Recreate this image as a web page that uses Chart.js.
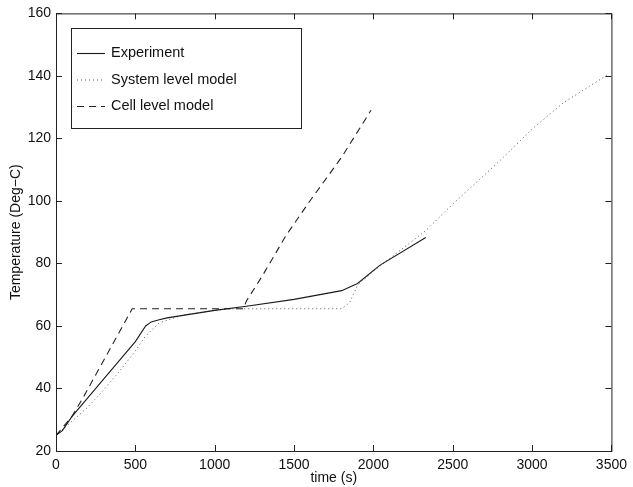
<!DOCTYPE html>
<html>
<head>
<meta charset="utf-8">
<script src="https://cdn.jsdelivr.net/npm/chart.js@4/dist/chart.umd.min.js"></script>
<style>
  html, body { margin: 0; padding: 0; background: #fff; }
  #wrap { width: 633px; height: 487px; position: relative; }
</style>
</head>
<body>
<div id="wrap"><canvas id="c"></canvas></div>
<script>
// values (time in s, temperature in Deg-C)
const expTime  = [0, 40, 100, 200, 300, 400, 500, 565, 600, 650, 700, 1000, 1200, 1500, 1800, 1900, 2040, 2330];
const expTemp  = [25, 26.5, 31, 37, 43, 49, 55, 60, 61.3, 62, 62.6, 65, 66.3, 68.5, 71.3, 73.6, 79.4, 88.3];

const sysTime  = [0, 100, 200, 300, 400, 500, 560, 650, 800, 1000, 1100, 1800, 1850, 1900, 2000, 2100, 2330, 2500, 2800, 3000, 3200, 3480];
const sysTemp  = [25, 29.5, 34, 39.5, 45.5, 52, 56.5, 61, 63.5, 65, 65.5, 65.5, 67.5, 73, 77.5, 81.5, 90.5, 99, 113, 123, 131.5, 140.5];

const cellTime = [0, 100, 170, 480, 1180, 1200, 1300, 1450, 1600, 1800, 1985];
const cellTemp = [25, 31, 37, 65.5, 65.5, 68, 76, 89, 100, 114, 129];

const xTicks = [0, 500, 1000, 1500, 2000, 2500, 3000, 3500];
const yTicks = [20, 40, 60, 80, 100, 120, 140, 160];

const legendNames = ['Experiment', 'System level model', 'Cell level model'];

const FONT = "'Liberation Sans', Arial, sans-serif";

function pts(xs, ys) {
  return xs.map((x, i) => ({ x, y: ys[i] }));
}

const styles = [
  { color: '#1a1a1a', dash: [], width: 1.1 },
  { color: '#555', dash: [1, 3], width: 1 },
  { color: '#222', dash: [7, 5], width: 1.1 },
];

// MATLAB-style box, inward ticks and legend
const boxPlugin = {
  id: 'box',
  afterDraw(chart) {
    const { ctx, chartArea: a, scales } = chart;
    ctx.save();
    ctx.strokeStyle = '#222';
    ctx.lineWidth = 1;
    ctx.strokeRect(a.left + 0.5, a.top + 0.5, a.right - a.left, a.bottom - a.top);
    const tl = 6;
    ctx.beginPath();
    xTicks.forEach((v) => {
      const x = Math.round(scales.x.getPixelForValue(v)) + 0.5;
      ctx.moveTo(x, a.bottom); ctx.lineTo(x, a.bottom - tl);
      ctx.moveTo(x, a.top); ctx.lineTo(x, a.top + tl);
    });
    yTicks.forEach((v) => {
      const y = Math.round(scales.y.getPixelForValue(v)) + 0.5;
      ctx.moveTo(a.left, y); ctx.lineTo(a.left + tl, y);
      ctx.moveTo(a.right, y); ctx.lineTo(a.right - tl, y);
    });
    ctx.stroke();

    // legend
    const lx = 71, ly = 28, lw = 230, lh = 100;
    ctx.fillStyle = '#fff';
    ctx.fillRect(lx, ly, lw, lh);
    ctx.strokeStyle = '#222';
    ctx.strokeRect(lx + 0.5, ly + 0.5, lw, lh);
    ctx.font = '14.5px ' + FONT;
    ctx.textBaseline = 'middle';
    ctx.fillStyle = '#111';
    legendNames.forEach((name, i) => {
      const y = ly + 25 + i * 26.5;
      const s = styles[i];
      ctx.beginPath();
      ctx.setLineDash(s.dash);
      ctx.strokeStyle = s.color;
      ctx.lineWidth = s.width;
      ctx.moveTo(lx + 6, y + 0.5);
      ctx.lineTo(lx + 34, y + 0.5);
      ctx.stroke();
      ctx.setLineDash([]);
      ctx.fillText(name, lx + 40, y);
    });
    ctx.restore();
  },
};

const series = [pts(expTime, expTemp), pts(sysTime, sysTemp), pts(cellTime, cellTemp)];

new Chart(document.getElementById('c'), {
  type: 'scatter',
  data: {
    datasets: series.map((d, i) => ({
      label: legendNames[i],
      data: d,
      showLine: true,
      borderColor: styles[i].color,
      borderWidth: styles[i].width,
      borderDash: styles[i].dash,
      pointRadius: 0,
      tension: 0,
      fill: false,
    })),
  },
  options: {
    responsive: true,
    maintainAspectRatio: false,
    animation: false,
    layout: { padding: { top: 12, right: 18, left: 0, bottom: 0 } },
    plugins: { legend: { display: false }, tooltip: { enabled: false } },
    scales: {
      x: {
        type: 'linear',
        min: 0, max: 3500,
        afterBuildTicks: (s) => { s.ticks = xTicks.map((v) => ({ value: v })); },
        afterFit: (s) => { s.height = 36; },
        grid: { display: false, drawTicks: false },
        border: { display: false },
        ticks: { color: '#111', font: { family: FONT, size: 14 }, padding: 6, maxRotation: 0, callback: (v) => String(v) },
        title: { display: true, text: 'time (s)', color: '#111', font: { family: FONT, size: 14 }, padding: { top: 0, bottom: 0 } },
      },
      y: {
        type: 'linear',
        min: 20, max: 160,
        afterBuildTicks: (s) => { s.ticks = yTicks.map((v) => ({ value: v })); },
        afterFit: (s) => { s.width = 56; },
        grid: { display: false, drawTicks: false },
        border: { display: false },
        ticks: { color: '#111', font: { family: FONT, size: 14 }, padding: 5, callback: (v) => String(v) },
        title: { display: true, text: 'Temperature (Deg\u2212C)', color: '#111', font: { family: FONT, size: 14 }, padding: { top: 8, bottom: 4 } },
      },
    },
  },
  plugins: [boxPlugin],
});
</script>
</body>
</html>
